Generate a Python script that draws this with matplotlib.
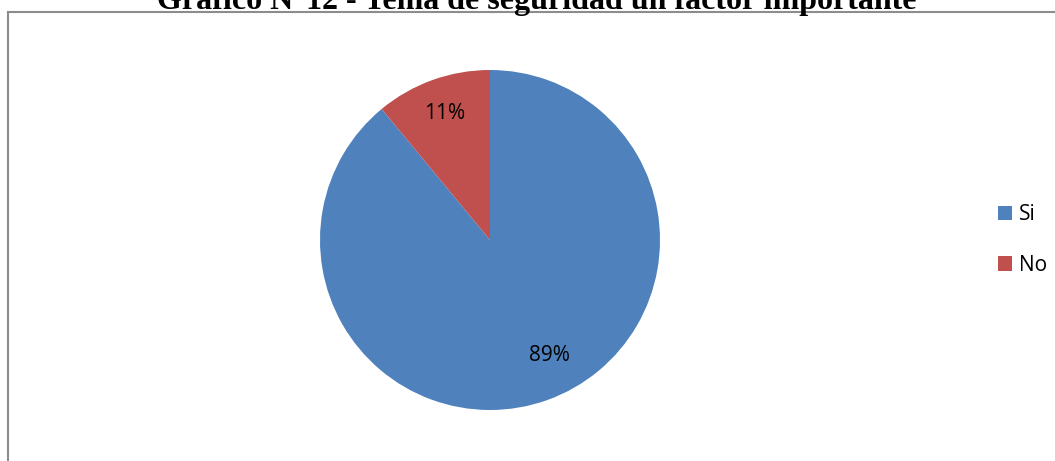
import matplotlib.pyplot as plt
from matplotlib.lines import Line2D

labels = ['Si', 'No']
values = [89, 11]
colors = ['#4F81BD', '#C0504D']
title = 'Gráfico N°12 - Tema de seguridad un factor importante'

W, H = 1055, 461
fig = plt.figure(figsize=(W / 100, H / 100), dpi=100)

# outer frame (only top and left edges visible)
fig.add_artist(Line2D([8 / W, 8 / W], [0, 1 - 12 / H], color='#8c8c8c', lw=1.5))
fig.add_artist(Line2D([8 / W, 1], [1 - 12 / H, 1 - 12 / H], color='#8c8c8c', lw=1.5))

# title, clipped at top edge of the image (as in the scanned original)
fig.text(537 / W, 1 - 9 / H, title, ha='center', va='baseline',
         fontsize=23, fontweight='bold', family='Liberation Serif')

r = 170
ax = fig.add_axes([(490 - r) / W, (H - 240 - r) / H, 2 * r / W, 2 * r / H])
wedges, texts, autotexts = ax.pie(values, colors=colors, startangle=90, counterclock=False,
                                  autopct='%1.0f%%', pctdistance=0.79,
                                  textprops={'fontsize': 15, 'family': 'Open Sans'})
# Excel puts the big slice's label a bit off its bisector
autotexts[0].set_position((0.35, -0.68))
ax.set_xlim(-1, 1)
ax.set_ylim(-1, 1)
ax.set_aspect('equal')

leg = fig.legend(wedges, labels, loc='center left', bbox_to_anchor=(979 / W, 1 - 240 / H),
                 frameon=False, prop={'family': 'Open Sans', 'size': 15},
                 handlelength=0.7, handleheight=0.7, handletextpad=0.3, labelspacing=1.4)

fig.savefig('out.png', dpi=100)
